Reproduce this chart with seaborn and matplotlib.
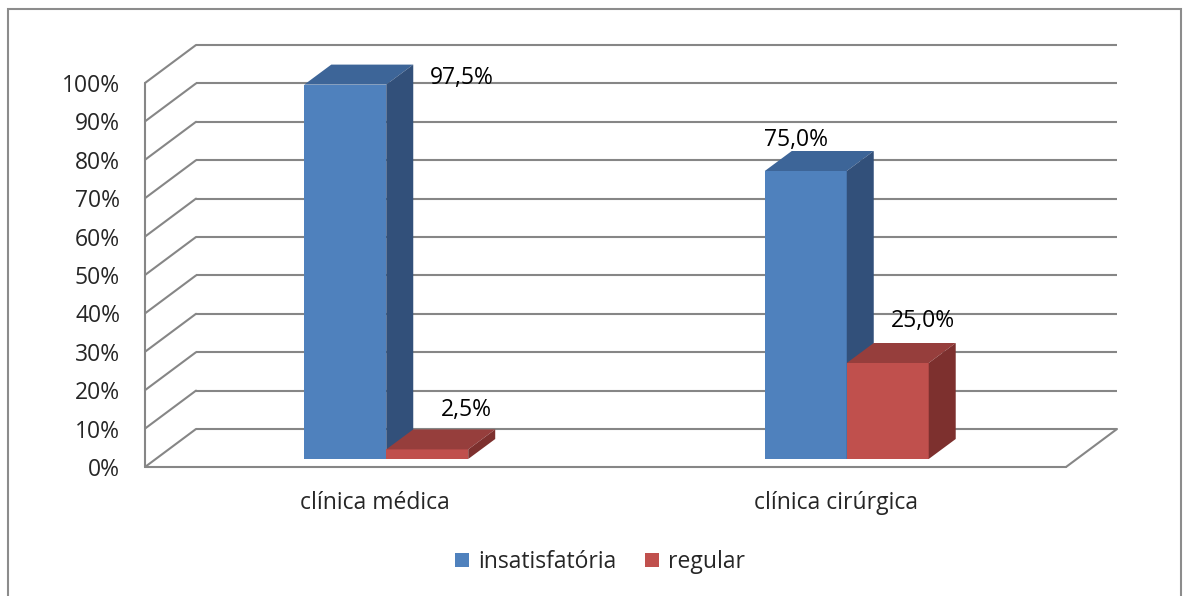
import numpy as np
import pandas as pd
import seaborn as sns
import matplotlib
matplotlib.use("Agg")
import matplotlib.pyplot as plt
from matplotlib.patches import Polygon, Rectangle
from matplotlib.transforms import ScaledTranslation

# ---- data ----
categories = ["clínica médica", "clínica cirúrgica"]
series = ["insatisfatória", "regular"]
insatisfatoria = [97.5, 75.0]
regular = [2.5, 25.0]
value_labels = ["97,5%", "75,0%", "2,5%", "25,0%"]   # order: blue bars then red bars
y_ticks = list(range(0, 101, 10))
y_tick_labels = [f"{t}%" for t in y_ticks]

# ---- style ----
front_cols = ["#4F81BD", "#C0504D"]
top_cols = ["#3D6598", "#963E3C"]
side_cols = ["#32507A", "#7D302E"]
grid_col = "#868686"
FONT = "Open Sans"
FS = 16.5

W, H, DPI = 1183, 596, 100
sns.set_theme(style="white")
plt.rcParams["font.family"] = [FONT, "DejaVu Sans"]

fig = plt.figure(figsize=(W / DPI, H / DPI), dpi=DPI)
fig.patch.set_facecolor("white")
# outer frame
fig.add_artist(Rectangle((8 / W, -0.05), (1181 - 8) / W, 1.05 - 9 / H + 0.0,
                         transform=fig.transFigure, fill=False,
                         edgecolor="#8C8C8C", lw=1.5))

# front plane axes
ax = fig.add_axes([145 / W, (H - 467) / H, 921 / W, 384 / H])
ax.set_facecolor("none")

df = pd.DataFrame({
    "categoria": categories * 2,
    "serie": [series[0]] * 2 + [series[1]] * 2,
    "valor": insatisfatoria + regular,
})
sns.barplot(data=df, x="categoria", y="valor", hue="serie", hue_order=series,
            palette=front_cols, saturation=1, width=0.356, ax=ax, legend=False,
            linewidth=0)
ax.set_xlim(-0.5, 1.5)
ax.set_ylim(0, 100)
for s in ax.spines.values():
    s.set_visible(False)
ax.grid(False)
ax.set_xlabel("")
ax.set_ylabel("")
ax.set_yticks(y_ticks)
ax.set_yticklabels(y_tick_labels)
ax.tick_params(axis="y", length=0, pad=18, labelsize=FS)
ax.tick_params(axis="x", length=0, pad=17, labelsize=FS)

# pixel offsets -> data units
def px(dx, dy):
    return ScaledTranslation(dx / DPI, dy / DPI, fig.dpi_scale_trans)

wall_tr = ax.transData + px(51, 38)
bar_tr = ax.transData + px(11, 8)
ppx = (ax.transData.transform((1, 0))[0] - ax.transData.transform((0, 0))[0])
ppy = (ax.transData.transform((0, 1))[1] - ax.transData.transform((0, 0))[1])
ddx, ddy = 27 / ppx, 20 / ppy

lw = 1.5
x0, x1 = ax.get_xlim()
# back wall gridlines and left diagonals
for t in y_ticks:
    ax.plot([x0, x1], [t, t], color=grid_col, lw=lw, transform=wall_tr,
            clip_on=False, zorder=1, solid_capstyle="butt")
    p_front = ax.transData.transform((x0, t))
    p_back = wall_tr.transform((x0, t))
    ax.plot([p_front[0], p_back[0]], [p_front[1], p_back[1]], color=grid_col,
            lw=lw, transform=None, clip_on=False, zorder=1)
# front axis lines and floor
ax.plot([x0, x0], [0, 100], color=grid_col, lw=lw, clip_on=False, zorder=1)
ax.plot([x0, x1], [0, 0], color=grid_col, lw=lw, clip_on=False, zorder=1)
pf = ax.transData.transform((x1, 0))
pb = wall_tr.transform((x1, 0))
ax.plot([pf[0], pb[0]], [pf[1], pb[1]], color=grid_col, lw=lw,
        transform=None, clip_on=False, zorder=1)

# bars -> 3D faces
label_offsets = [(117, 7), (-10, 31), (39, 39), (35, 42)]  # pixels, y up
bars = list(ax.patches)
for i, p in enumerate(bars):
    si = i // 2
    ci = i % 2
    z = 3 + ci * 3 + si * 1.5
    bx, bw, bh = p.get_x(), p.get_width(), p.get_height()
    p.set_transform(bar_tr)
    p.set_clip_on(False)
    p.set_zorder(z)
    top = Polygon([(bx, bh), (bx + bw, bh), (bx + bw + ddx, bh + ddy), (bx + ddx, bh + ddy)],
                  closed=True, facecolor=top_cols[si], edgecolor="none",
                  transform=bar_tr, clip_on=False, zorder=z)
    side = Polygon([(bx + bw, 0), (bx + bw + ddx, ddy), (bx + bw + ddx, bh + ddy), (bx + bw, bh)],
                   closed=True, facecolor=side_cols[si], edgecolor="none",
                   transform=bar_tr, clip_on=False, zorder=z)
    ax.add_patch(top)
    ax.add_patch(side)
    ox, oy = label_offsets[i]
    ax.annotate(value_labels[i], xy=(bx + bw / 2, bh), xycoords=bar_tr,
                xytext=(ox, oy), textcoords="offset pixels",
                ha="center", va="center", fontsize=FS, color="black",
                annotation_clip=False, zorder=20)

# legend
handles = [Rectangle((0, 0), 1, 1, facecolor=c, edgecolor="none") for c in front_cols]
fig.legend(handles, series, loc="center", bbox_to_anchor=(600 / W, 1 - 562 / H),
           ncol=2, frameon=False, fontsize=FS, handlelength=0.6, handleheight=0.6,
           handletextpad=0.4, columnspacing=1.25, borderaxespad=0, borderpad=0)

fig.savefig("out.png", dpi=DPI, facecolor="white")
